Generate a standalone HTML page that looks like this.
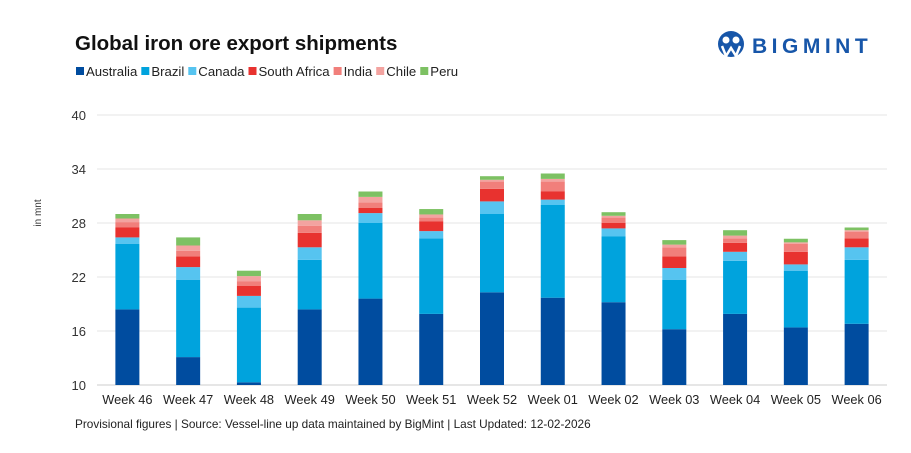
<!DOCTYPE html>
<html><head><meta charset="utf-8">
<style>
body{margin:0;width:911px;height:453px;background:#fff;font-family:"Liberation Sans",Arial,sans-serif;overflow:hidden}
svg{display:block}
</style></head>
<body>
<svg id="chart" width="911" height="453" xmlns="http://www.w3.org/2000/svg">
<text x="75" y="50" font-size="20.5" font-weight="bold" fill="#111">Global iron ore export shipments</text>
<g id="legend"></g>
<g>
<circle cx="731" cy="44" r="13" fill="#1756A9"/>
<circle cx="726" cy="40" r="3.5" fill="#fff"/><circle cx="736" cy="40" r="3.5" fill="#fff"/>
<path d="M722 46 L726 56 L731 48 L736 56 L740 46" stroke="#fff" stroke-width="2.5" fill="none"/>
<text x="752" y="53" font-size="21" font-weight="bold" fill="#1756A9" letter-spacing="4.5">BIGMINT</text>
</g>
<text transform="translate(41,213) rotate(-90)" font-size="10" fill="#333" text-anchor="middle">in mnt</text>
<g id="grid"></g><g id="bars"></g><g id="xlabels"></g>
<text x="75" y="428" font-size="11.8" fill="#222">Provisional figures | Source: Vessel-line up data maintained by BigMint | Last Updated: 12-02-2026</text>
</svg>
<script>
const categories=["Week 46","Week 47","Week 48","Week 49","Week 50","Week 51","Week 52","Week 01","Week 02","Week 03","Week 04","Week 05","Week 06"];
const seriesNames=["Australia","Brazil","Canada","South Africa","India","Chile","Peru"];
const australia=[18.4,13.1,10.3,18.4,19.6,17.9,20.3,19.7,19.2,16.2,17.9,16.4,16.8];
const brazil=[7.3,8.6,8.3,5.5,8.4,8.4,8.7,10.3,7.3,5.5,5.9,6.3,7.1];
const canada=[0.7,1.4,1.3,1.4,1.1,0.8,1.4,0.6,0.9,1.3,1.0,0.7,1.4];
const southAfrica=[1.1,1.2,1.1,1.6,0.6,1.1,1.4,0.9,0.6,1.3,1.0,1.4,1.0];
const india=[0.6,0.6,0.5,0.8,0.6,0.4,0.8,1.1,0.6,1.0,0.5,0.9,0.7];
const chile=[0.4,0.6,0.6,0.6,0.6,0.35,0.2,0.3,0.2,0.3,0.3,0.15,0.2];
const peru=[0.5,0.9,0.6,0.7,0.6,0.6,0.4,0.6,0.4,0.5,0.6,0.4,0.3];
const yTicks=[10,16,22,28,34,40];
const colors=["#004C9F","#00A3DD","#56C4F0","#E8322F","#F17F7B","#F3A3A0","#7DC163"];
const series=[australia,brazil,canada,southAfrica,india,chile,peru];
const NS="http://www.w3.org/2000/svg";
const x0=97,x1=887,yMin=10,yMax=40,py0=385,py1=115;
const band=(x1-x0)/categories.length,bw=24;
function y(v){return py0-(v-yMin)/(yMax-yMin)*(py0-py1);}
function xc(i){return x0+band*(i+0.5);}
function mk(tag,at,parent){const e=document.createElementNS(NS,tag);for(const k in at)e.setAttribute(k,at[k]);parent.appendChild(e);return e;}
const grid=document.getElementById('grid');
yTicks.forEach(t=>{
 const l=mk('line',{x1:x0,x2:x1,y1:y(t),y2:y(t),stroke:t===yMin?'#ccc':'#e6e6e6','stroke-width':1},grid);
 
 
 const tx=mk('text',{x:86,y:y(t)+5,'font-size':13,'text-anchor':'end',fill:'#333'},grid);
 tx.textContent=t;
 
 
});
const bars=document.getElementById('bars');
categories.forEach((c,i)=>{
 let base=0;
 series.forEach((s,k)=>{
  const lo=Math.max(base,yMin),hi=base+s[i];
  base=hi;
  if(hi<=yMin)return;
  const r=mk('rect',{x:xc(i)-bw/2,y:y(hi),width:bw,height:y(lo)-y(hi),fill:colors[k]},bars);
  
  
 });
 const t=mk('text',{x:xc(i),y:404,'font-size':12.8,'text-anchor':'middle',fill:'#222'},document.getElementById('xlabels'));
 t.textContent=c;
 
 
});
const lg=document.getElementById('legend');
let lx=76;
seriesNames.forEach((n,k)=>{
 const r=mk('rect',{x:lx,y:67,width:8,height:8,fill:colors[k]},lg);
 
 
 const t=mk('text',{x:lx+10,y:76,'font-size':13.2,fill:'#222'},lg);
 t.textContent=n;
 
 
 lx+=10+t.getComputedTextLength()+4;
});
</script>
</body></html>
